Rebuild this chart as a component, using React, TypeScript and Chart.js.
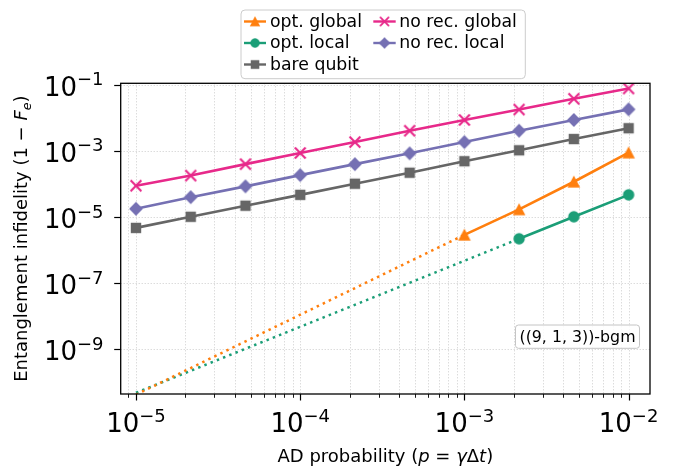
import React, { useEffect, useRef } from 'react';
import { Chart, registerables } from 'chart.js';

Chart.register(...registerables);

// ---------- data ----------
const P = [1e-5, 2.154e-5, 4.642e-5, 1e-4, 2.154e-4, 4.642e-4, 1e-3, 2.154e-3, 4.642e-3, 1e-2];
const NO_REC_GLOBAL = [8.9e-5, 1.8e-4, 4.0e-4, 8.7e-4, 1.86e-3, 4.1e-3, 8.7e-3, 1.8e-2, 3.8e-2, 7.8e-2];
const NO_REC_LOCAL = [1.78e-5, 4.0e-5, 8.5e-5, 1.86e-4, 4.0e-4, 8.5e-4, 1.86e-3, 4.1e-3, 8.7e-3, 1.82e-2];
const BARE_QUBIT = [4.7e-6, 1.02e-5, 2.2e-5, 4.7e-5, 1.02e-4, 2.2e-4, 4.9e-4, 1.05e-3, 2.3e-3, 4.9e-3];
const OPT_GLOBAL_P = [1e-3, 2.154e-3, 4.642e-3, 1e-2];
const OPT_GLOBAL = [2.9e-6, 1.7e-5, 1.17e-4, 8.9e-4];
const OPT_LOCAL_P = [2.154e-3, 4.642e-3, 1e-2];
const OPT_LOCAL = [2.2e-6, 1.02e-5, 4.7e-5];
const OPT_GLOBAL_FIT_P = [1e-5, 1e-3];
const OPT_GLOBAL_FIT = [4.2e-11, 2.9e-6];
const OPT_LOCAL_FIT_P = [1e-5, 2.154e-3];
const OPT_LOCAL_FIT = [4.8e-11, 2.2e-6];

const X_MAJOR_EXP = [-5, -4, -3, -2];
const X_GRID_EXP = [-6, -5, -4, -3, -2];
const X_MINOR_MULT = [1, 2, 3, 4, 5, 6, 7, 8, 9];
const Y_MAJOR_EXP = [-1, -3, -5, -7, -9];
const X_RANGE = [8.07e-6, 1.35e-2];
const Y_RANGE = [4.4e-11, 1.12e-1];

const LEGEND_COL1 = ['opt. global', 'opt. local', 'bare qubit'];
const LEGEND_COL2 = ['no rec. global', 'no rec. local'];
const ANNOTATION = '((9, 1, 3))-bgm';

const C_ORANGE = '#ff7f0e';
const C_GREEN = '#1b9e77';
const C_GRAY = '#666666';
const C_PINK = '#e7298a';
const C_PURPLE = '#7570b3';

const FONT = '"DejaVu Sans", Verdana, sans-serif';

function pts(xs: number[], ys: number[]) {
  return xs.map((x, i) => ({ x, y: ys[i] }));
}

function makeMarker(kind: string, color: string): HTMLCanvasElement {
  const c = document.createElement('canvas');
  c.width = 18;
  c.height = 18;
  const g = c.getContext('2d')!;
  g.fillStyle = color;
  g.strokeStyle = color;
  g.translate(9, 9);
  g.beginPath();
  switch (kind) {
    case 'circle':
      g.arc(0, 0, 5.7, 0, Math.PI * 2);
      g.fill();
      break;
    case 'square':
      g.fillRect(-5.2, -5.2, 10.4, 10.4);
      break;
    case 'diamond':
      g.moveTo(0, -6.9);
      g.lineTo(6.9, 0);
      g.lineTo(0, 6.9);
      g.lineTo(-6.9, 0);
      g.closePath();
      g.fill();
      break;
    case 'triangle':
      g.moveTo(0, -6.3);
      g.lineTo(6.3, 5.7);
      g.lineTo(-6.3, 5.7);
      g.closePath();
      g.fill();
      break;
    case 'x':
      g.lineWidth = 2.1;
      g.moveTo(-5.4, -5.4);
      g.lineTo(5.4, 5.4);
      g.moveTo(5.4, -5.4);
      g.lineTo(-5.4, 5.4);
      g.stroke();
      break;
  }
  return c;
}

type Run = { t: string; f: string; dy?: number };

function runsWidth(ctx: CanvasRenderingContext2D, runs: Run[]) {
  let w = 0;
  for (const r of runs) {
    ctx.font = r.f;
    w += ctx.measureText(r.t).width;
  }
  return w;
}

function drawRuns(ctx: CanvasRenderingContext2D, runs: Run[], x: number, y: number) {
  let cx = x;
  ctx.textAlign = 'left';
  ctx.textBaseline = 'alphabetic';
  for (const r of runs) {
    ctx.font = r.f;
    ctx.fillText(r.t, cx, y + (r.dy || 0));
    cx += ctx.measureText(r.t).width;
  }
}

function powRuns(e: number): Run[] {
  return [
    { t: '10', f: `26px ${FONT}` },
    { t: '\u2212' + Math.abs(e), f: `18px ${FONT}`, dy: -10.5 },
  ];
}

export default function App() {
  const ref = useRef<HTMLCanvasElement>(null);

  useEffect(() => {
    const canvas = ref.current!;
    const mk = {
      tri: makeMarker('triangle', C_ORANGE),
      circ: makeMarker('circle', C_GREEN),
      sq: makeMarker('square', C_GRAY),
      x: makeMarker('x', C_PINK),
      dia: makeMarker('diamond', C_PURPLE),
    };

    const solid = (label: string, data: any[], color: string, marker: HTMLCanvasElement) => ({
      label,
      data,
      borderColor: color,
      backgroundColor: color,
      borderWidth: 2.6,
      pointStyle: marker,
      pointRadius: 6,
      pointHoverRadius: 6,
      tension: 0,
      fill: false,
    });
    const dotted = (data: any[], color: string) => ({
      label: '',
      data,
      borderColor: color,
      backgroundColor: color,
      borderWidth: 2.5,
      borderDash: [2.5, 4.2],
      borderCapStyle: 'butt',
      pointRadius: 0,
      pointHoverRadius: 0,
      tension: 0,
      fill: false,
    });

    const mplPlugin = {
      id: 'mplAxes',
      beforeDatasetsDraw(ch: any) {
        const { ctx, chartArea: a, scales } = ch;
        const xs = scales.x;
        const ys = scales.y;
        ctx.save();
        ctx.beginPath();
        ctx.rect(a.left, a.top, a.right - a.left, a.bottom - a.top);
        ctx.clip();
        ctx.strokeStyle = 'rgba(170,170,170,0.75)';
        ctx.lineWidth = 0.8;
        ctx.setLineDash([1, 2]);
        for (const e of X_GRID_EXP) {
          for (const m of X_MINOR_MULT) {
            const v = m * Math.pow(10, e);
            if (v < X_RANGE[0] || v > X_RANGE[1]) continue;
            const px = Math.round(xs.getPixelForValue(v)) + 0.5;
            ctx.beginPath();
            ctx.moveTo(px, a.top);
            ctx.lineTo(px, a.bottom);
            ctx.stroke();
          }
        }
        for (const e of Y_MAJOR_EXP) {
          const py = Math.round(ys.getPixelForValue(Math.pow(10, e))) + 0.5;
          ctx.beginPath();
          ctx.moveTo(a.left, py);
          ctx.lineTo(a.right, py);
          ctx.stroke();
        }
        ctx.restore();
      },
      afterDraw(ch: any) {
        const { ctx, chartArea: a, scales } = ch;
        const xs = scales.x;
        const ys = scales.y;
        ctx.save();
        ctx.setLineDash([]);
        ctx.fillStyle = '#000';
        ctx.strokeStyle = '#000';

        // x ticks
        for (const e of X_GRID_EXP) {
          for (const m of X_MINOR_MULT) {
            const v = m * Math.pow(10, e);
            if (v < X_RANGE[0] || v > X_RANGE[1]) continue;
            const px = Math.round(xs.getPixelForValue(v)) + 0.5;
            const major = m === 1;
            ctx.lineWidth = major ? 1.2 : 0.9;
            ctx.beginPath();
            ctx.moveTo(px, a.bottom);
            ctx.lineTo(px, a.bottom + (major ? 6.5 : 3.8));
            ctx.stroke();
          }
        }
        for (const e of X_MAJOR_EXP) {
          const px = xs.getPixelForValue(Math.pow(10, e));
          const runs = powRuns(e);
          const w = runsWidth(ctx, runs);
          drawRuns(ctx, runs, px - w / 2, 432);
        }
        // y ticks
        for (const e of Y_MAJOR_EXP) {
          const pyv = ys.getPixelForValue(Math.pow(10, e));
          const py = Math.round(pyv) + 0.5;
          ctx.lineWidth = 1.2;
          ctx.beginPath();
          ctx.moveTo(a.left - 6.5, py);
          ctx.lineTo(a.left, py);
          ctx.stroke();
          const runs = powRuns(e);
          const w = runsWidth(ctx, runs);
          drawRuns(ctx, runs, 103.5 - w, pyv + 11);
        }

        // spines
        ctx.lineWidth = 1.3;
        ctx.strokeRect(a.left, a.top, a.right - a.left, a.bottom - a.top);

        // x label
        const F = `18px ${FONT}`;
        const FI = `italic 18px ${FONT}`;
        const xl: Run[] = [
          { t: 'AD probability (', f: F },
          { t: 'p', f: FI },
          { t: ' = ', f: F },
          { t: '\u03b3', f: FI },
          { t: '\u0394', f: F },
          { t: 't', f: FI },
          { t: ')', f: F },
        ];
        const xw = runsWidth(ctx, xl);
        drawRuns(ctx, xl, (a.left + a.right) / 2 - xw / 2, 461.5);

        // y label
        const yl: Run[] = [
          { t: 'Entanglement infidelity (1 \u2212 ', f: F },
          { t: 'F', f: FI },
          { t: 'e', f: `italic 12.6px ${FONT}`, dy: 3.5 },
          { t: ')', f: F },
        ];
        const yw = runsWidth(ctx, yl);
        ctx.save();
        ctx.translate(27, (a.top + a.bottom) / 2);
        ctx.rotate(-Math.PI / 2);
        drawRuns(ctx, yl, -yw / 2, 0);
        ctx.restore();

        // annotation box
        ctx.font = `15.8px ${FONT}`;
        const aw = ctx.measureText(ANNOTATION).width;
        const acx = 577.5;
        ctx.beginPath();
        const bx = acx - aw / 2 - 4;
        (ctx as any).roundRect(bx, 325, aw + 8, 23.3, 3);
        ctx.fillStyle = 'rgba(255,255,255,0.85)';
        ctx.fill();
        ctx.strokeStyle = '#c4c4c4';
        ctx.lineWidth = 1;
        ctx.stroke();
        ctx.fillStyle = '#000';
        ctx.textAlign = 'left';
        ctx.textBaseline = 'alphabetic';
        ctx.fillText(ANNOTATION, acx - aw / 2, 341.5);

        // legend
        ctx.beginPath();
        (ctx as any).roundRect(241, 10, 284.3, 68.7, 4);
        ctx.fillStyle = 'rgba(255,255,255,0.85)';
        ctx.fill();
        ctx.strokeStyle = '#cccccc';
        ctx.lineWidth = 1;
        ctx.stroke();
        const rowsBase = [26.5, 48, 69.5];
        const col1 = [
          { c: C_ORANGE, m: mk.tri },
          { c: C_GREEN, m: mk.circ },
          { c: C_GRAY, m: mk.sq },
        ];
        const col2 = [
          { c: C_PINK, m: mk.x },
          { c: C_PURPLE, m: mk.dia },
        ];
        const drawEntry = (lx0: number, lx1: number, tx: number, base: number, label: string, c: string, m: HTMLCanvasElement) => {
          const hy = base - 5;
          ctx.strokeStyle = c;
          ctx.lineWidth = 2.4;
          ctx.beginPath();
          ctx.moveTo(lx0, hy);
          ctx.lineTo(lx1, hy);
          ctx.stroke();
          const s = 15;
          ctx.drawImage(m, (lx0 + lx1) / 2 - s / 2, hy - s / 2, s, s);
          ctx.fillStyle = '#000';
          ctx.font = `17.3px ${FONT}`;
          ctx.textAlign = 'left';
          ctx.fillText(label, tx, base);
        };
        LEGEND_COL1.forEach((lab, i) => drawEntry(244, 266, 270, rowsBase[i], lab, col1[i].c, col1[i].m));
        LEGEND_COL2.forEach((lab, i) => drawEntry(373.3, 395.7, 399.3, rowsBase[i], lab, col2[i].c, col2[i].m));

        ctx.restore();
      },
    };

    const chart = new Chart(canvas, {
      type: 'line',
      data: {
        datasets: [
          solid('opt. global', pts(OPT_GLOBAL_P, OPT_GLOBAL), C_ORANGE, mk.tri),
          solid('opt. local', pts(OPT_LOCAL_P, OPT_LOCAL), C_GREEN, mk.circ),
          solid('bare qubit', pts(P, BARE_QUBIT), C_GRAY, mk.sq),
          solid('no rec. global', pts(P, NO_REC_GLOBAL), C_PINK, mk.x),
          solid('no rec. local', pts(P, NO_REC_LOCAL), C_PURPLE, mk.dia),
          dotted(pts(OPT_GLOBAL_FIT_P, OPT_GLOBAL_FIT), C_ORANGE),
          dotted(pts(OPT_LOCAL_FIT_P, OPT_LOCAL_FIT), C_GREEN),
        ] as any,
      },
      options: {
        animation: false,
        responsive: false,
        events: [],
        layout: { padding: { left: 120.7, top: 83.3, right: 23, bottom: 72 } },
        plugins: { legend: { display: false }, tooltip: { enabled: false } },
        scales: {
          x: { type: 'logarithmic', min: X_RANGE[0], max: X_RANGE[1], display: false },
          y: { type: 'logarithmic', min: Y_RANGE[0], max: Y_RANGE[1], display: false },
        },
      } as any,
      plugins: [mplPlugin as any],
    });
    return () => chart.destroy();
  }, []);

  return (
    <div style={{ position: 'fixed', left: 0, top: 0, width: 673, height: 466, background: '#fff' }}>
      <canvas ref={ref} width={673} height={466} style={{ display: 'block', width: 673, height: 466 }} />
    </div>
  );
}
